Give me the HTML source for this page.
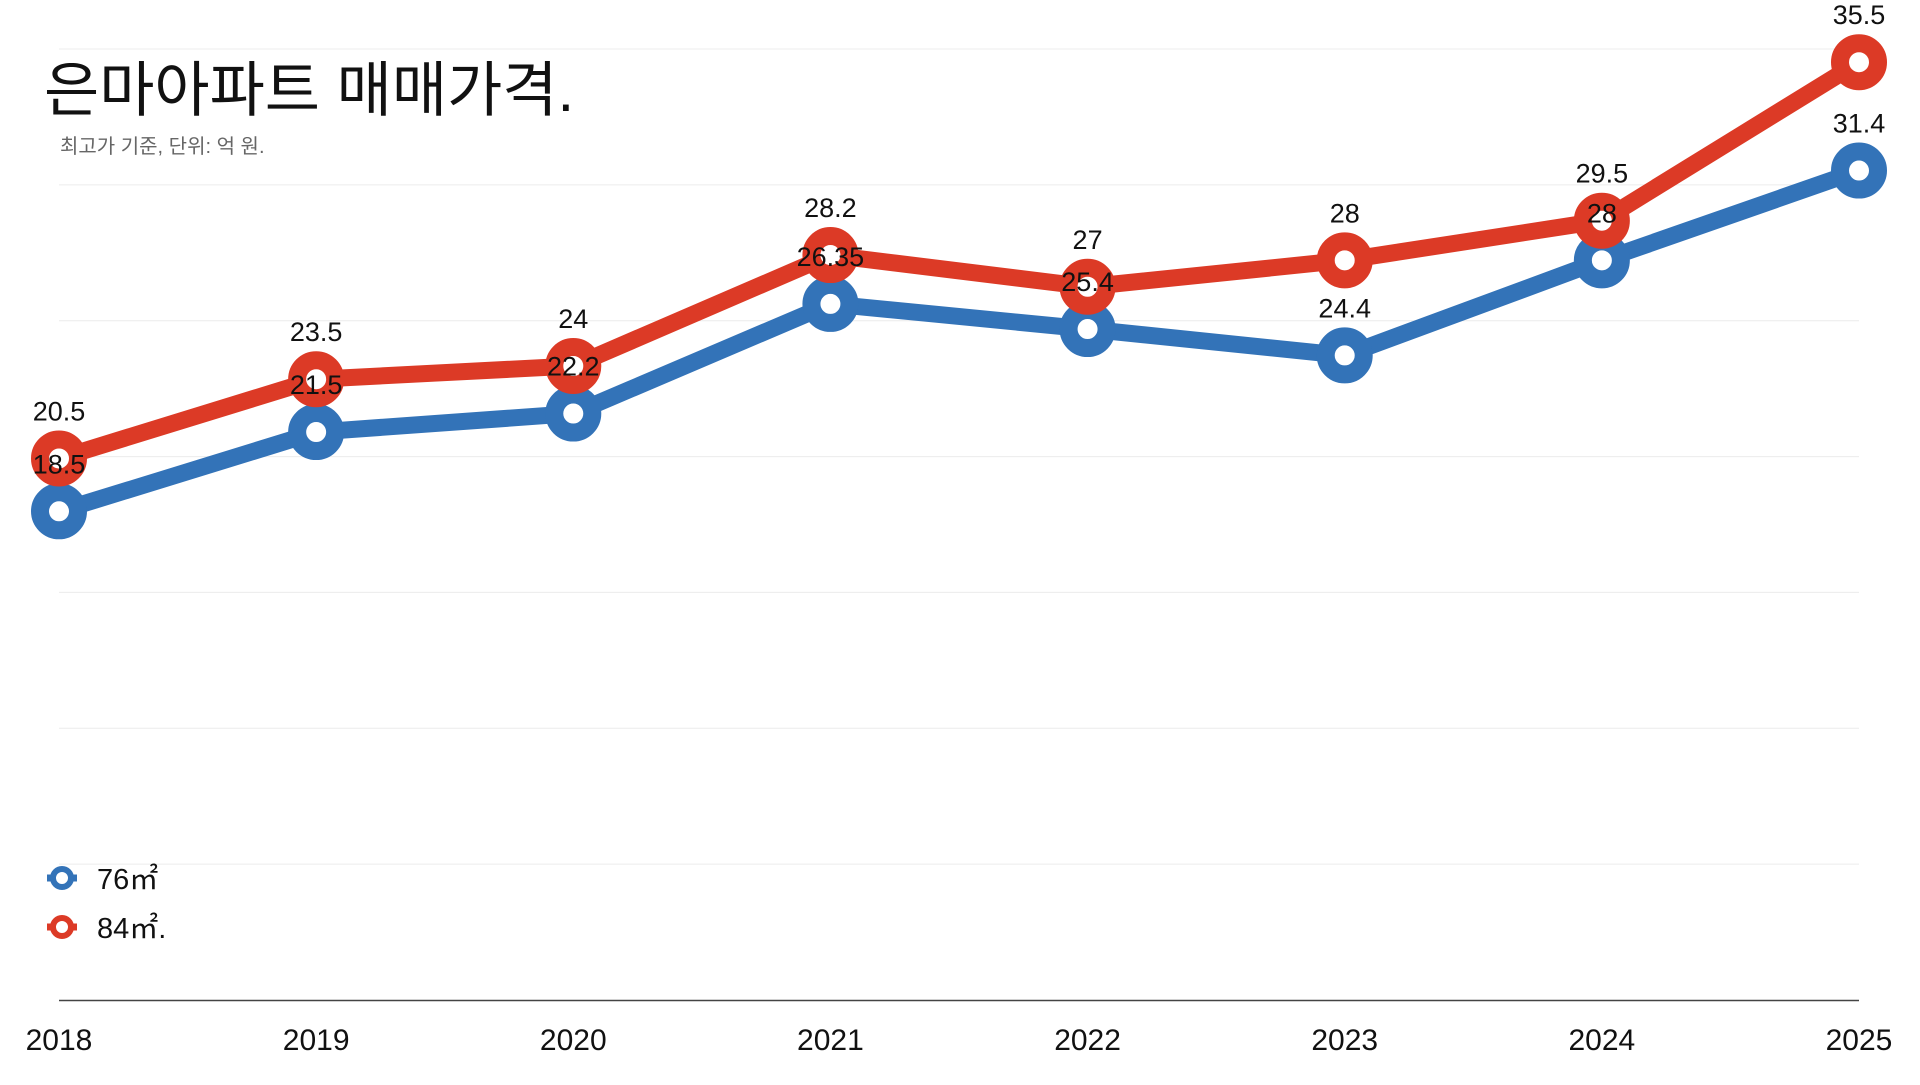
<!DOCTYPE html>
<html><head><meta charset="utf-8">
<style>
html,body{margin:0;padding:0;background:#fff;}
body{width:1920px;height:1080px;overflow:hidden;font-family:"Liberation Sans","Noto Sans CJK KR",sans-serif;}
svg text{font-family:"Liberation Sans","Noto Sans CJK KR",sans-serif;}
</style></head>
<body>
<svg id="chart" width="1920" height="1080" viewBox="0 0 1920 1080" xmlns="http://www.w3.org/2000/svg">
  <g id="grid"></g>
  <line x1="59" x2="1859" y1="1000.5" y2="1000.5" stroke="#444" stroke-width="1.5"/>
  <g id="xticks"></g>
  <g id="series"></g>
  <text x="44" y="111" font-size="60" fill="#111">은마아파트 매매가격.</text>
  <text x="60" y="153" font-size="20" fill="#666">최고가 기준, 단위: 억 원.</text>
  <g>
    <g>
      <line x1="47" x2="77" y1="878" y2="878" stroke="#3373b8" stroke-width="7"/>
      <circle cx="62" cy="878" r="9" fill="#fff" stroke="#3373b8" stroke-width="6"/>
      <text x="97" y="889" font-size="29" fill="#111">76㎡</text>
    </g>
    <g>
      <line x1="47" x2="77" y1="927" y2="927" stroke="#dc3a26" stroke-width="7"/>
      <circle cx="62" cy="927" r="9" fill="#fff" stroke="#dc3a26" stroke-width="6"/>
      <text x="97" y="938" font-size="29" fill="#111">84㎡.</text>
    </g>
  </g>
</svg>
<script>
const categories = ["2018","2019","2020","2021","2022","2023","2024","2025"];
const series76 = [18.5, 21.5, 22.2, 26.35, 25.4, 24.4, 28, 31.4];
const series84 = [20.5, 23.5, 24, 28.2, 27, 28, 29.5, 35.5];
const yMax = 36;
const gridCount = 7;

const NS = "http://www.w3.org/2000/svg";
const x0 = 59, x1 = 1859, yBase = 1000, yTop = 49;
function xScale(i){ return x0 + (x1 - x0) * i / (categories.length - 1); }
function yScale(v){ return yBase - (yBase - yTop) * v / yMax; }
function mk(tag, attrs){ const e = document.createElementNS(NS, tag); for (const k in attrs) e.setAttribute(k, attrs[k]); return e; }

const grid = document.getElementById('grid');
for (let g = 1; g <= gridCount; g++) {
  const y = yScale(yMax * g / gridCount);
  const l = mk('line', {x1: x0, x2: x1, y1: y, y2: y, stroke: '#ececec', 'stroke-width': 1});
  
  
  grid.appendChild(l);
}
const xt = document.getElementById('xticks');
categories.forEach((c, i) => {
  const t = mk('text', {x: xScale(i), y: 1050, 'font-size': 30, 'text-anchor': 'middle', fill: '#111'});
  t.textContent = c;
  
  
  xt.appendChild(t);
});
const sg = document.getElementById('series');
function drawSeries(vals, color, name){
  const g = mk('g', {});
  
  
  const pts = vals.map((v, i) => xScale(i) + ',' + yScale(v)).join(' ');
  const pl = mk('polyline', {points: pts, fill: 'none', stroke: color, 'stroke-width': 17, 'stroke-linejoin': 'round'});
  
  
  g.appendChild(pl);
  vals.forEach((v, i) => {
    const c = mk('circle', {cx: xScale(i), cy: yScale(v), r: 19, fill: '#fff', stroke: color, 'stroke-width': 18});
    
    
    g.appendChild(c);
  });
  sg.appendChild(g);
  return g;
}
const g76 = drawSeries(series76, '#3373b8', 'series-76');
const g84 = drawSeries(series84, '#dc3a26', 'series-84');
function drawLabels(vals, name){
  vals.forEach((v, i) => {
    const t = mk('text', {x: xScale(i), y: yScale(v) - 38, 'font-size': 27, 'text-anchor': 'middle', fill: '#111'});
    t.textContent = String(v);
    
    
    sg.appendChild(t);
  });
}
drawLabels(series76, 'series-76');
drawLabels(series84, 'series-84');
</script>
</body></html>
